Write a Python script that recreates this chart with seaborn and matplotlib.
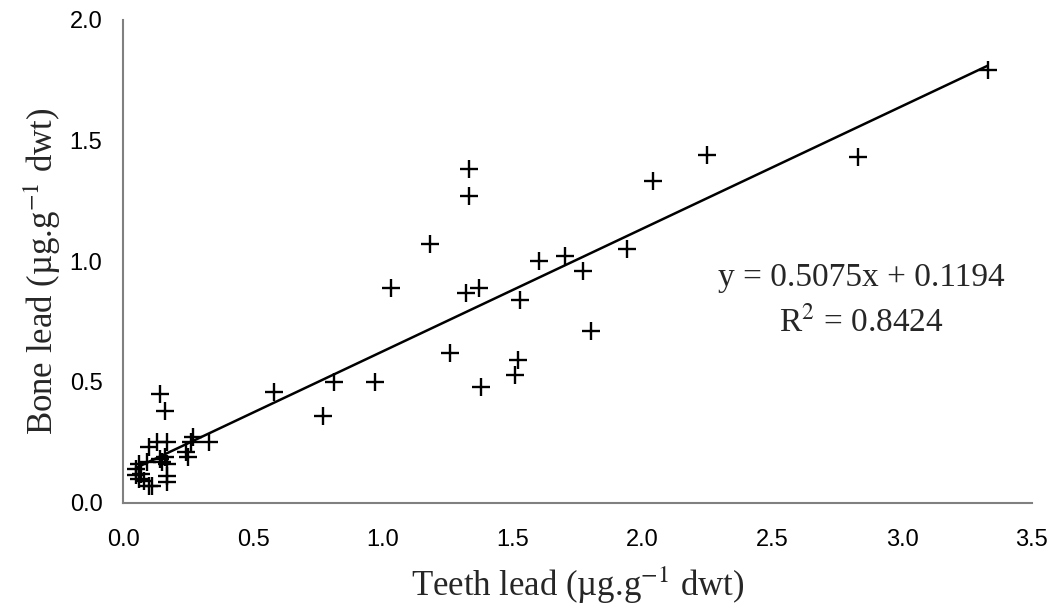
import numpy as np
import pandas as pd
import matplotlib
matplotlib.use("Agg")
import matplotlib.pyplot as plt
import seaborn as sns

# Plomo en dientes vs hueso
teeth = [0.05, 0.06, 0.07, 0.08, 0.10, 0.11, 0.06, 0.05, 0.09, 0.10, 0.13, 0.17,
         0.14, 0.15, 0.16, 0.17, 0.17, 0.17, 0.14, 0.16, 0.24, 0.25, 0.26, 0.27,
         0.33, 0.58, 0.77, 0.81, 0.97, 1.03, 1.18, 1.26, 1.32, 1.33, 1.33, 1.37,
         1.38, 1.51, 1.52, 1.53, 1.60, 1.70, 1.77, 1.80, 1.94, 2.04, 2.25, 2.83, 3.33]
bone = [0.14, 0.10, 0.12, 0.09, 0.07, 0.07, 0.16, 0.115, 0.17, 0.23, 0.25, 0.25,
        0.18, 0.17, 0.19, 0.11, 0.085, 0.16, 0.45, 0.38, 0.21, 0.19, 0.25, 0.27,
        0.25, 0.46, 0.36, 0.50, 0.50, 0.89, 1.07, 0.62, 0.87, 1.38, 1.27, 0.89,
        0.48, 0.53, 0.59, 0.84, 1.00, 1.02, 0.96, 0.71, 1.05, 1.33, 1.44, 1.43, 1.79]

# Linea de tendencia (coeficientes del grafico)
pendiente = 0.5075
intercepto = 0.1194
r2 = 0.8424

x_ticks = [0.0, 0.5, 1.0, 1.5, 2.0, 2.5, 3.0, 3.5]
y_ticks = [0.0, 0.5, 1.0, 1.5, 2.0]

df = pd.DataFrame({"teeth": teeth, "bone": bone})

sns.set_style("white")
plt.rcParams["font.family"] = ["Liberation Sans", "DejaVu Sans"]
plt.rcParams["mathtext.fontset"] = "stix"

fig = plt.figure(figsize=(10.6, 6.15), dpi=100)
ax = fig.add_axes([0.1163, 0.1826, 0.8571, 0.7854])

sns.scatterplot(data=df, x="teeth", y="bone", marker="+", s=150, color="black",
                linewidth=1.7, ax=ax, zorder=3)

x_linea = np.array([df["teeth"].min(), df["teeth"].max()])
sns.lineplot(x=x_linea, y=pendiente * x_linea + intercepto, color="black",
             linewidth=1.8, ax=ax, zorder=2)

ax.set_xlim(0, 3.5)
ax.set_ylim(0, 2.0)
ax.set_xticks(x_ticks)
ax.set_yticks(y_ticks)
ax.set_xticklabels([f"{v:.1f}" for v in x_ticks])
ax.set_yticklabels([f"{v:.1f}" for v in y_ticks])

for lado in ["top", "right"]:
    ax.spines[lado].set_visible(False)
for lado in ["left", "bottom"]:
    ax.spines[lado].set_color("#808080")
    ax.spines[lado].set_linewidth(1.5)
ax.tick_params(axis="both", direction="out", length=5, width=1.3, color="#808080",
               labelsize=17, labelcolor="black")
ax.tick_params(axis="x", pad=14)
ax.tick_params(axis="y", pad=10)

ax.set_xlabel("Teeth lead (\u00b5g.g$^{-1}$ dwt)", family="Liberation Serif",
              fontsize=25)
ax.set_ylabel("Bone lead (\u00b5g.g$^{-1}$ dwt)", family="Liberation Serif",
              fontsize=25)
ax.xaxis.set_label_coords(0.5, -0.17)
ax.yaxis.set_label_coords(-0.089, 0.48)
ax.xaxis.label.set_va("center")
ax.yaxis.label.set_va("center")

ax.text(2.845, 0.93, f"y = {pendiente}x + {intercepto}", ha="center", va="center",
        family="Liberation Serif", fontsize=24)
ax.text(2.845, 0.748, f"R$^2$ = {r2}", ha="center", va="center",
        family="Liberation Serif", fontsize=24)

plt.savefig("out.png", dpi=100)
